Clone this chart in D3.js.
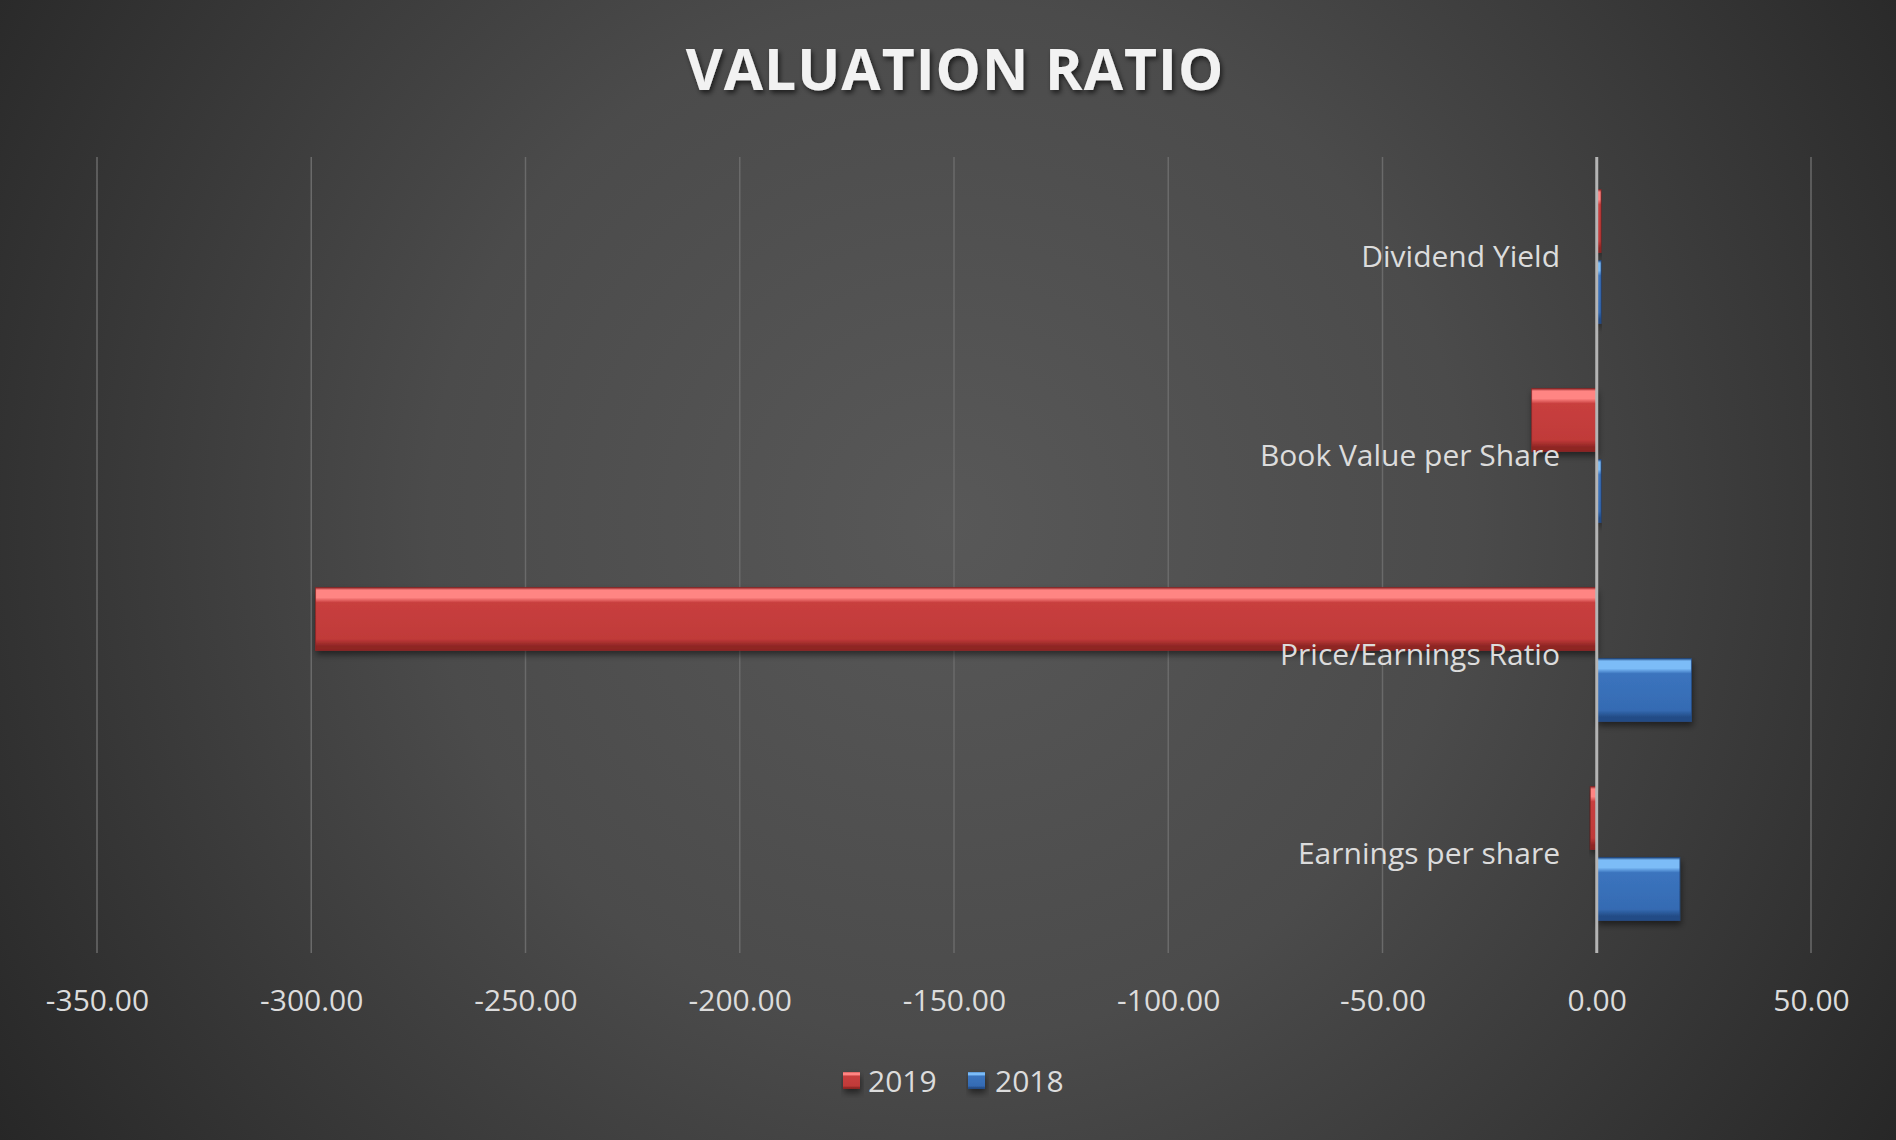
<!DOCTYPE html>
<html>
<head>
<meta charset="utf-8">
<script src="https://cdn.jsdelivr.net/npm/d3@7"></script>
<style>
  html, body { margin: 0; padding: 0; background: #333; }
  svg { display: block; }
</style>
</head>
<body>
<svg id="chart" width="1896" height="1140"></svg>
<script>
// ---- data ----
const categories = ["Dividend Yield", "Book Value per Share", "Price/Earnings Ratio", "Earnings per share"];
const seriesNames = ["2019", "2018"];
const values2019 = [1.0, -15.2, -299.0, -1.5];
const values2018 = [1.0, 1.0, 22.1, 19.4];
const tickValues = [-350, -300, -250, -200, -150, -100, -50, 0, 50];
const title = "VALUATION RATIO";

const rows = categories.map((c, i) => ({ category: c, "2019": values2019[i], "2018": values2018[i] }));

const svg = d3.select("#chart");
const W = 1896, H = 1140;
const font = "'Open Sans', 'Lato', sans-serif";

const defs = svg.append("defs");
// background radial gradient
const bg = defs.append("radialGradient").attr("id", "bg")
  .attr("gradientUnits", "userSpaceOnUse")
  .attr("cx", 948).attr("cy", 520).attr("r", 1150);
bg.append("stop").attr("offset", "0").attr("stop-color", "#585858");
bg.append("stop").attr("offset", "0.45").attr("stop-color", "#4b4b4b");
bg.append("stop").attr("offset", "1").attr("stop-color", "#262626");

// bar gradients (bevel look)
const palette = {
  "2019": { hi: "#ff8583", main: "#c83f3e", mid: "#c03a39", lo: "#8e2524" },
  "2018": { hi: "#7cbcf7", main: "#3b74be", mid: "#356bb3", lo: "#234c86" }
};
Object.entries(palette).forEach(([k, p]) => {
  const g = defs.append("linearGradient").attr("id", "bar" + k)
    .attr("x1", 0).attr("y1", 0).attr("x2", 0).attr("y2", 1);
  g.append("stop").attr("offset", "0").attr("stop-color", p.lo);
  g.append("stop").attr("offset", "0.04").attr("stop-color", p.hi);
  g.append("stop").attr("offset", "0.16").attr("stop-color", p.hi);
  g.append("stop").attr("offset", "0.24").attr("stop-color", p.main);
  g.append("stop").attr("offset", "0.82").attr("stop-color", p.mid);
  g.append("stop").attr("offset", "0.93").attr("stop-color", p.lo);
  g.append("stop").attr("offset", "1").attr("stop-color", p.lo);
});

const shadow = defs.append("filter").attr("id", "shadow")
  .attr("x", "-10%").attr("y", "-30%").attr("width", "130%").attr("height", "180%");
shadow.append("feDropShadow").attr("dx", 1).attr("dy", 4).attr("stdDeviation", 3)
  .attr("flood-color", "#000").attr("flood-opacity", 0.5);

const tshadow = defs.append("filter").attr("id", "tshadow")
  .attr("x", "-10%").attr("y", "-30%").attr("width", "130%").attr("height", "180%");
tshadow.append("feDropShadow").attr("dx", 2).attr("dy", 3).attr("stdDeviation", 2.5)
  .attr("flood-color", "#000").attr("flood-opacity", 0.6);

svg.append("rect").attr("width", W).attr("height", H).attr("fill", "url(#bg)");

// ---- scales ----
const plotTop = 157, plotBottom = 953;
const x = d3.scaleLinear().domain([-350, 50]).range([97, 1811]);
const y = d3.scaleBand().domain(categories).range([plotTop, plotBottom]).padding(0);
const yInner = d3.scaleBand().domain(seriesNames).range([0, y.bandwidth()])
  .paddingInner(0.113).paddingOuter(0.458);

// gridlines
svg.append("g").selectAll("line").data(tickValues.filter(v => v !== 0)).join("line")
  .attr("x1", d => x(d)).attr("x2", d => x(d))
  .attr("y1", plotTop).attr("y2", plotBottom)
  .attr("stroke", "#6a6a6a").attr("stroke-width", 1.5);

// tick labels via d3 axis (ASCII hyphen minus like the reference)
const fmt = d3.formatLocale({ decimal: ".", thousands: ",", grouping: [3], currency: ["", ""], minus: "-" }).format(".2f");
const axis = d3.axisBottom(x).tickValues(tickValues).tickFormat(fmt).tickSize(0).tickPadding(0);
const axG = svg.append("g").attr("transform", `translate(0, 994)`).call(axis);
axG.select(".domain").remove();
axG.selectAll("text")
  .attr("font-family", font).attr("font-size", 30).attr("fill", "#dcdcdc")
  .attr("dy", "0.71em").attr("y", -4);

// bars
const gBars = svg.append("g");
seriesNames.forEach(s => {
  gBars.append("g").selectAll("rect").data(rows).join("rect")
    .attr("x", d => Math.min(x(0), x(d[s])))
    .attr("width", d => Math.abs(x(d[s]) - x(0)))
    .attr("y", d => y(d.category) + yInner(s))
    .attr("height", yInner.bandwidth())
    .attr("fill", `url(#bar${s})`)
    .attr("stroke", palette[s].lo).attr("stroke-width", 1).attr("stroke-opacity", 0.7)
    .attr("filter", "url(#shadow)");
});

// zero axis line
svg.append("line")
  .attr("x1", x(0)).attr("x2", x(0)).attr("y1", plotTop).attr("y2", plotBottom)
  .attr("stroke", "#b4b4b4").attr("stroke-width", 3);

// category labels
svg.append("g").selectAll("text").data(categories).join("text")
  .attr("x", 1560)
  .attr("y", d => y(d) + y.bandwidth() / 2)
  .attr("dy", "0.36em")
  .attr("text-anchor", "end")
  .attr("font-family", font).attr("font-size", 30).attr("fill", "#dcdcdc")
  .text(d => d);

// title
svg.append("text")
  .attr("x", 955).attr("y", 90)
  .attr("text-anchor", "middle")
  .attr("font-family", font).attr("font-weight", "bold").attr("font-size", 57)
  .attr("letter-spacing", 1)
  .attr("fill", "#f2f2f2")
  .attr("filter", "url(#tshadow)")
  .text(title);

// legend
const legendItems = [
  { name: "2019", sx: 843, tx: 868 },
  { name: "2018", sx: 968, tx: 995 }
];
const lg = svg.append("g");
legendItems.forEach(it => {
  lg.append("rect").attr("x", it.sx).attr("y", 1072).attr("width", 17).attr("height", 17)
    .attr("fill", `url(#bar${it.name})`).attr("filter", "url(#shadow)");
  lg.append("text").attr("x", it.tx).attr("y", 1081).attr("dy", "0.36em")
    .attr("font-family", font).attr("font-size", 30).attr("fill", "#dcdcdc")
    .text(it.name);
});
</script>
</body>
</html>
